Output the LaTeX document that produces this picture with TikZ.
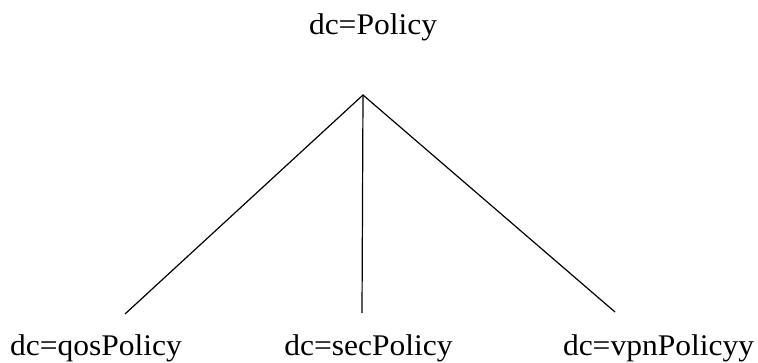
\documentclass[tikz,border=0pt]{standalone}
\usepackage{fontspec}
\setmainfont{Liberation Serif}
\begin{document}
\begin{tikzpicture}[x=1pt,y=1pt,
  lbl/.style={anchor=base,inner sep=0pt,font=\fontsize{30}{36}\selectfont,xscale=1.05},
  edge/.style={line width=1.2pt}]
\useasboundingbox (0,0) rectangle (758,362);
\node[lbl] (root) at (373,327) {dc=Policy};
\coordinate (apex) at (363,267);
\coordinate (eq) at (125,48);
\coordinate (es) at (362,49);
\coordinate (ev) at (615,50);
\node[lbl] (qos) at (96,7) {dc=qosPolicy};
\node[lbl] (sec) at (368.5,7) {dc=secPolicy};
\node[lbl] (vpn) at (658.5,7) {dc=vpnPolicyy};
\draw[edge] (eq) -- (apex) -- (ev);
\draw[edge] (apex) -- (es);
\end{tikzpicture}
\end{document}
